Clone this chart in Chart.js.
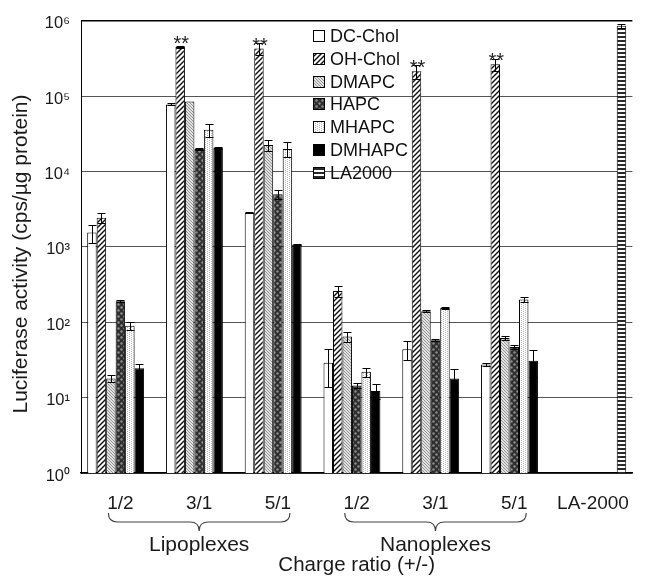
<!DOCTYPE html>
<html><head><meta charset="utf-8">
<script src="https://cdn.jsdelivr.net/npm/chart.js@4/dist/chart.umd.min.js"></script>
<style>html,body{margin:0;padding:0;background:#fff}canvas{display:block}</style>
</head><body>
<canvas id="c" width="648" height="576"></canvas>
<script>
// ---- data ----
const categories = ['1/2', '3/1', '5/1', '1/2', '3/1', '5/1', 'LA-2000'];
const seriesNames = ['DC-Chol', 'OH-Chol', 'DMAPC', 'HAPC', 'MHAPC', 'DMHAPC', 'LA2000'];
const dcChol   = [1550, 78000, 2850, 29, 44, 27.5, null];
const ohChol   = [2450, 450000, 430000, 260, 215000, 265000, null];
const dmapc    = [18, 85000, 22500, 65, 140, 62, null];
const hapc     = [190, 20000, 5000, 14.5, 58, 47, null];
const mhapc    = [90, 36000, 20000, 22, 155, 200, null];
const dmhapc   = [24.5, 20500, 1080, 12.3, 18, 31, null];
const la2000   = [null, null, null, null, null, null, 860000];
const dcCholErr = [420, 2500, 60, 15, 12, 1.5, null];
const ohCholErr = [400, 8000, 75000, 45, 45000, 50000, null];
const dmapcErr  = [2, 0, 3500, 10, 4, 3, null];
const hapcErr   = [5, 600, 700, 1.2, 2, 3, null];
const mhapcErr  = [12, 7000, 4500, 3, 5, 15, null];
const dmhapcErr = [3.5, 800, 30, 2.7, 6, 12, null];
const la2000Err = [null, null, null, null, null, null, 60000];
const significance = ['', '**', '**', '', '**', '**', ''];
const yTickValues = [1, 10, 100, 1000, 10000, 100000, 1000000];
const yTickLabels = ['10\u2070', '10\u00B9', '10\u00B2', '10\u00B3', '10\u2074', '10\u2075', '10\u2076'];
const groupLabels = ['Lipoplexes', 'Nanoplexes'];
const groupSpans = [[0, 2], [3, 5]];
const yTitle = 'Luciferase activity (cps/\u00B5g protein)';
const xTitle = 'Charge ratio (+/-)';

// ---- patterns ----
const FONT = "'Liberation Sans', Arial, Helvetica, sans-serif";
const canvas = document.getElementById('c');
const mainCtx = canvas.getContext('2d');
function pat(w, h, draw) {
  const c = document.createElement('canvas'); c.width = w; c.height = h;
  const g = c.getContext('2d'); draw(g, w, h);
  return mainCtx.createPattern(c, 'repeat');
}
const fills = [
  '#ffffff',
  pat(5, 5, (g, w, h) => { g.fillStyle = '#fff'; g.fillRect(0, 0, w, h); g.strokeStyle = '#111'; g.lineWidth = 1.4;
    [[0, 5, 5, 0], [-2, 2, 2, -2], [3, 7, 7, 3]].forEach(l => { g.beginPath(); g.moveTo(l[0], l[1]); g.lineTo(l[2], l[3]); g.stroke(); }); }),
  pat(3, 3, (g, w, h) => { g.fillStyle = '#e2e2e2'; g.fillRect(0, 0, w, h); g.strokeStyle = '#8a8a8a'; g.lineWidth = 0.9;
    [[0, 0, 3, 3], [-2, 1, 2, 5], [1, -2, 5, 2]].forEach(l => { g.beginPath(); g.moveTo(l[0], l[1]); g.lineTo(l[2], l[3]); g.stroke(); }); }),
  pat(6, 6, (g, w, h) => { g.fillStyle = '#2e2e2e'; g.fillRect(0, 0, w, h); g.fillStyle = '#8e8e8e';
    [[1.5, 1.5], [4.5, 4.5]].forEach(p => { g.beginPath(); g.arc(p[0], p[1], 1.2, 0, Math.PI * 2); g.fill(); }); }),
  pat(4, 4, (g, w, h) => { g.fillStyle = '#fff'; g.fillRect(0, 0, w, h); g.fillStyle = '#b4b4b4';
    g.fillRect(1, 0, 1, 1); g.fillRect(1, 2, 1, 1); g.fillRect(3, 1, 1, 1); g.fillRect(3, 3, 1, 1); }),
  '#000000',
  pat(4, 4, (g, w, h) => { g.fillStyle = '#fff'; g.fillRect(0, 0, w, h); g.fillStyle = '#2a2a2a'; g.fillRect(0, 0, w, 2); })
];
const values = [dcChol, ohChol, dmapc, hapc, mhapc, dmhapc, la2000];
const errors = [dcCholErr, ohCholErr, dmapcErr, hapcErr, mhapcErr, dmhapcErr, la2000Err];

const datasets = seriesNames.map((n, i) => ({
  label: n, data: values[i], backgroundColor: fills[i], borderColor: '#000', borderWidth: 1,
  categoryPercentage: 0.843, barPercentage: 1.0
}));

// ---- plugins ----
const errorBars = {
  id: 'errorBars',
  afterDatasetsDraw(chart) {
    const ctx = chart.ctx, ys = chart.scales.y;
    ctx.save(); ctx.strokeStyle = '#000'; ctx.lineWidth = 1;
    chart.data.datasets.forEach((ds, i) => {
      const meta = chart.getDatasetMeta(i);
      meta.data.forEach((el, j) => {
        const v = ds.data[j], e = errors[i][j];
        if (v == null || !e) return;
        const x = Math.round(el.x) + 0.5;
        const yt = Math.round(ys.getPixelForValue(v + e)) + 0.5;
        const yb = Math.round(ys.getPixelForValue(Math.max(v - e, 1))) + 0.5;
        const hw = 4;
        ctx.beginPath();
        ctx.moveTo(x, yt); ctx.lineTo(x, yb);
        ctx.moveTo(x - hw, yt); ctx.lineTo(x + hw, yt);
        ctx.moveTo(x - hw, yb); ctx.lineTo(x + hw, yb);
        ctx.stroke();
      });
    });
    // significance marks over OH-Chol
    const meta1 = chart.getDatasetMeta(1);
    ctx.fillStyle = '#222'; ctx.font = '20px ' + FONT; ctx.textAlign = 'center'; ctx.textBaseline = 'alphabetic';
    significance.forEach((s, j) => {
      if (!s) return;
      const el = meta1.data[j];
      ctx.fillText(s, el.x + 1, el.y + 3);
    });
    ctx.restore();
  }
};

const extras = {
  id: 'extras',
  afterDraw(chart) {
    const ctx = chart.ctx, xs = chart.scales.x;
    ctx.save();
    // legend
    ctx.font = '18px ' + FONT; ctx.textBaseline = 'middle'; ctx.textAlign = 'left';
    chart.data.datasets.forEach((ds, i) => {
      const yc = 36 + i * 22.8;
      const by = Math.round(yc - 6) + 0.5;
      ctx.fillStyle = ds.backgroundColor; ctx.fillRect(313.5, by, 11, 11);
      ctx.strokeStyle = '#000'; ctx.lineWidth = 1; ctx.strokeRect(313.5, by, 11, 11);
      ctx.fillStyle = '#111'; ctx.fillText(ds.label, 330, yc + 1);
    });
    // braces and group labels
    ctx.strokeStyle = '#444'; ctx.lineWidth = 1.2; ctx.fillStyle = '#1a1a1a';
    ctx.textAlign = 'center';
    groupSpans.forEach((sp, k) => {
      const x1 = xs.getPixelForTick(sp[0]) - 12, x2 = xs.getPixelForTick(sp[1]) + 12;
      const xm = (x1 + x2) / 2, yTop = 513, yMid = 522, yTip = 531, r = 9;
      ctx.beginPath();
      ctx.moveTo(x1, yTop);
      ctx.quadraticCurveTo(x1, yMid, x1 + r, yMid);
      ctx.lineTo(xm - r, yMid);
      ctx.quadraticCurveTo(xm, yMid, xm, yTip);
      ctx.quadraticCurveTo(xm, yMid, xm + r, yMid);
      ctx.lineTo(x2 - r, yMid);
      ctx.quadraticCurveTo(x2, yMid, x2, yTop);
      ctx.stroke();
      ctx.font = '21px ' + FONT;
      ctx.fillText(groupLabels[k], xm, 545);
    });
    // y title
    ctx.font = '21px ' + FONT;
    ctx.translate(21, 254); ctx.rotate(-Math.PI / 2);
    ctx.fillText(yTitle, 0, 0);
    ctx.restore();
  }
};

Chart.defaults.font.family = FONT;
Chart.defaults.color = '#1a1a1a';

new Chart(canvas, {
  type: 'bar',
  data: { labels: categories, datasets },
  options: {
    responsive: false, animation: false, devicePixelRatio: 1,
    layout: { padding: { top: 12, right: 1, left: 0, bottom: 0 } },
    plugins: { legend: { display: false }, tooltip: { enabled: false } },
    scales: {
      x: {
        grid: { display: false, drawTicks: false },
        border: { display: true, color: '#000', width: 1.5 },
        ticks: { font: { size: 19 }, padding: 19, color: '#1a1a1a', maxRotation: 0, autoSkip: false },
        title: { display: true, text: xTitle, font: { size: 20.5 }, padding: { top: 0, bottom: -2 }, color: '#1a1a1a' },
        afterFit(s) { s.height = 103; }
      },
      y: {
        type: 'logarithmic', min: 1, max: 1000000,
        afterBuildTicks(s) { s.ticks = yTickValues.map(v => ({ value: v })); },
        ticks: {
          font: { size: 16.5 }, padding: 11, labelOffset: 3, color: '#1a1a1a',
          callback: (v) => { const i = yTickValues.indexOf(v); return i >= 0 ? yTickLabels[i] : ''; }
        },
        grid: {
          drawTicks: false,
          color: (c) => (c.tick && c.tick.value === 1000000) ? '#000' : '#555',
          lineWidth: (c) => (c.tick && c.tick.value === 1000000) ? 1.5 : 1
        },
        border: { display: true, color: '#000', width: 1 },
        afterFit(s) { s.width = 81; }
      }
    }
  },
  plugins: [errorBars, extras]
});
</script>
</body></html>
